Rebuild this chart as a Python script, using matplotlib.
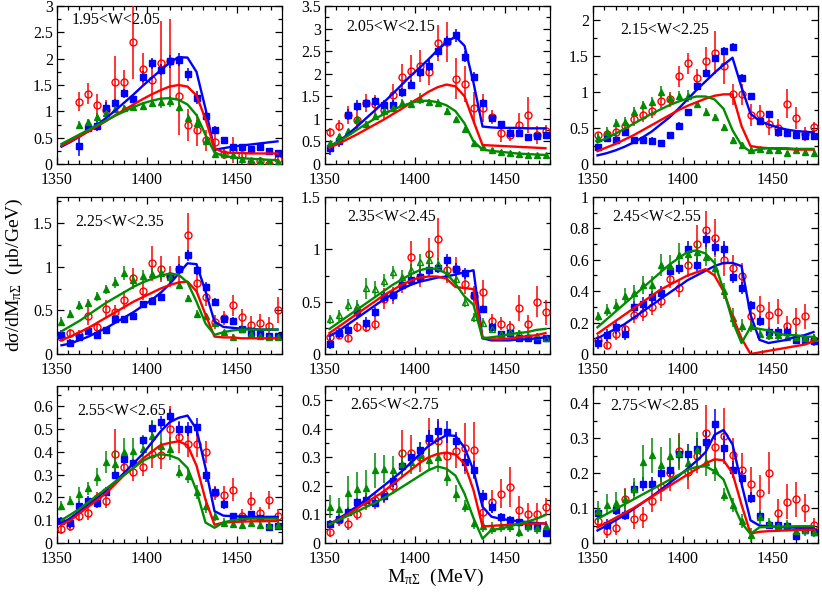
import matplotlib
matplotlib.use("Agg")
import matplotlib.pyplot as plt
from matplotlib.ticker import MultipleLocator, FuncFormatter

plt.rcParams['font.family'] = ['Liberation Serif', 'DejaVu Serif']
plt.rcParams['mathtext.fontset'] = 'custom'
plt.rcParams['mathtext.rm'] = 'Liberation Serif'
plt.rcParams['mathtext.it'] = 'Liberation Serif:italic'

# bin centres (MeV)
mass = [1352.5, 1357.5, 1362.5, 1367.5, 1372.5, 1377.5, 1382.5, 1387.5, 1392.5,
        1397.5, 1402.5, 1407.5, 1412.5, 1417.5, 1422.5, 1427.5, 1432.5, 1437.5,
        1442.5, 1447.5, 1452.5, 1457.5, 1462.5, 1467.5, 1472.5]

labels = ['1.95<W<2.05', '2.05<W<2.15', '2.15<W<2.25',
          '2.25<W<2.35', '2.35<W<2.45', '2.45<W<2.55',
          '2.55<W<2.65', '2.65<W<2.75', '2.75<W<2.85']
ymax = [3.0, 3.5, 2.2, 1.8, 1.5, 1.0, 0.69, 0.55, 0.45]
ymajor = [0.5, 0.5, 0.5, 0.5, 0.5, 0.2, 0.1, 0.1, 0.1]
first_bin = [2, 0, 0, 0, 0, 0, 0, 0, 0]

# ---- panel 1 (data from 1362.5)
red1 = [1.18, 1.33, 1.12, 1.02, 1.56, 1.56, 2.31, 1.80, 1.60, 1.91, 1.95, 1.30, 0.74, 0.65, 0.45, 0.41, 0.19, 0.27, 0.18, 0.0, 0.05, 0.0, 0.10]
red1_err = [0.18, 0.2, 0.2, 0.2, 0.5, 0.22, 0.7, 0.3, 0.4, 0.8, 0.8, 0.75, 0.3, 0.3, 0.2, 0.2, 0.1, 0.25, 0.2, 0.08, 0.08, 0.08, 0.1]
blue1 = [0.35, 0.68, 0.73, 1.07, 1.16, 1.34, 1.24, 1.66, 1.91, 1.79, 1.95, 1.98, 1.70, 1.26, 0.92, 0.65, 0.45, 0.33, 0.33, 0.29, 0.32, 0.24, 0.20]
blue1_err = [0.2, 0.1, 0.1, 0.1, 0.08, 0.08, 0.08, 0.1, 0.1, 0.1, 0.12, 0.12, 0.12, 0.12, 0.1, 0.08, 0.06, 0.05, 0.05, 0.05, 0.05, 0.06, 0.06]
green1 = [0.75, 0.79, 0.90, 0.97, 1.05, 1.06, 1.08, 1.11, 1.15, 1.17, 1.19, 1.09, 0.87, 0.77, 0.43, 0.19, 0.19, 0.17, 0.09, 0.08, 0.05, 0.03, 0.03]
green1_err = [0.06, 0.06, 0.06, 0.06, 0.06, 0.06, 0.06, 0.07, 0.07, 0.1, 0.1, 0.1, 0.08, 0.07, 0.06, 0.05, 0.04, 0.04, 0.03, 0.03, 0.03, 0.03, 0.03]
fit_blue1 = [0.33, 0.42, 0.52, 0.63, 0.75, 0.88, 1.02, 1.17, 1.32, 1.48, 1.63, 1.78, 1.92, 2.03, 2.02, 1.75, 1.05, 0.27, 0.30, 0.33, 0.35, 0.37, 0.39, 0.41, 0.43]
fit_red1 = [0.35, 0.43, 0.52, 0.62, 0.72, 0.82, 0.93, 1.03, 1.13, 1.23, 1.32, 1.40, 1.47, 1.50, 1.47, 1.30, 0.85, 0.30, 0.22, 0.21, 0.21, 0.20, 0.20, 0.20, 0.20]
fit_green1 = [0.38, 0.47, 0.56, 0.65, 0.74, 0.83, 0.92, 1.00, 1.08, 1.15, 1.20, 1.24, 1.25, 1.22, 1.13, 0.93, 0.55, 0.22, 0.15, 0.13, 0.11, 0.10, 0.09, 0.08, 0.07]

# ---- panel 2
red2 = [0.70, 0.85, 1.09, 0.98, 1.35, 1.33, 1.20, 1.52, 1.92, 2.07, 2.17, 2.04, 2.69, 2.70, 1.89, 1.77, 1.24, 1.24, 1.04, 0.68, 0.65, 0.87, 1.09, 0.65, 0.72]
red2_err = [0.1, 0.12, 0.2, 0.2, 0.2, 0.2, 0.2, 0.25, 0.3, 0.35, 0.35, 0.3, 0.4, 0.45, 0.45, 0.4, 0.35, 0.3, 0.15, 0.2, 0.15, 0.25, 0.4, 0.2, 0.15]
blue2 = [0.35, 0.50, 1.09, 1.29, 1.35, 1.39, 1.31, 1.31, 1.59, 1.76, 2.03, 2.18, 2.50, 2.72, 2.85, 2.38, 1.93, 1.35, 1.02, 0.89, 0.68, 0.68, 0.60, 0.63, 0.65]
blue2_err = [0.15, 0.12, 0.12, 0.12, 0.1, 0.1, 0.1, 0.1, 0.1, 0.1, 0.1, 0.12, 0.12, 0.12, 0.15, 0.12, 0.1, 0.08, 0.06, 0.06, 0.06, 0.06, 0.06, 0.06, 0.06]
green2 = [0.46, 0.61, 0.72, 0.99, 0.89, 1.07, 1.17, 1.24, 1.35, 1.33, 1.45, 1.37, 1.35, 1.18, 0.99, 0.77, 0.46, 0.37, 0.31, 0.27, 0.24, 0.22, 0.20, 0.19, 0.19]
green2_err = [0.06, 0.06, 0.06, 0.08, 0.06, 0.06, 0.06, 0.06, 0.08, 0.08, 0.12, 0.08, 0.08, 0.07, 0.06, 0.05, 0.04, 0.03, 0.03, 0.03, 0.03, 0.03, 0.03, 0.03, 0.03]
fit_blue2 = [0.38, 0.50, 0.65, 0.82, 1.00, 1.18, 1.36, 1.55, 1.75, 1.95, 2.13, 2.32, 2.52, 2.70, 2.82, 2.62, 1.80, 0.83, 0.81, 0.80, 0.80, 0.80, 0.79, 0.79, 0.79]
fit_red2 = [0.36, 0.45, 0.55, 0.65, 0.76, 0.87, 0.98, 1.10, 1.22, 1.35, 1.47, 1.60, 1.70, 1.76, 1.72, 1.50, 0.95, 0.42, 0.41, 0.40, 0.39, 0.38, 0.37, 0.36, 0.35]
fit_green2 = [0.40, 0.50, 0.62, 0.75, 0.88, 1.00, 1.10, 1.20, 1.28, 1.35, 1.40, 1.40, 1.37, 1.30, 1.17, 0.90, 0.50, 0.32, 0.29, 0.27, 0.25, 0.23, 0.22, 0.21, 0.20]

# ---- panel 3
red3 = [0.40, 0.42, 0.45, 0.53, 0.63, 0.68, 0.74, 0.88, 0.90, 1.22, 1.40, 1.20, 1.43, 1.55, 1.37, 0.97, 0.97, 0.68, 0.70, 0.56, 0.50, 0.84, 0.64, 0.42, 0.51]
red3_err = [0.05, 0.06, 0.06, 0.08, 0.1, 0.1, 0.1, 0.1, 0.1, 0.15, 0.15, 0.12, 0.2, 0.3, 0.25, 0.15, 0.15, 0.15, 0.12, 0.15, 0.12, 0.2, 0.15, 0.1, 0.08]
blue3 = [0.23, 0.36, 0.34, 0.44, 0.33, 0.33, 0.32, 0.29, 0.40, 0.53, 0.72, 1.08, 1.27, 1.47, 1.58, 1.63, 1.20, 0.94, 0.60, 0.70, 0.45, 0.43, 0.40, 0.39, 0.39]
blue3_err = [0.05, 0.05, 0.05, 0.05, 0.05, 0.05, 0.05, 0.05, 0.05, 0.05, 0.05, 0.05, 0.05, 0.05, 0.05, 0.05, 0.05, 0.04, 0.04, 0.04, 0.04, 0.04, 0.04, 0.04, 0.04]
green3 = [0.36, 0.45, 0.57, 0.59, 0.73, 0.82, 0.87, 1.00, 0.92, 0.95, 0.95, 0.83, 0.73, 0.65, 0.51, 0.33, 0.26, 0.20, 0.21, 0.20, 0.19, 0.15, 0.19, 0.17, 0.16]
green3_err = [0.06, 0.06, 0.06, 0.06, 0.06, 0.06, 0.06, 0.08, 0.06, 0.06, 0.08, 0.05, 0.05, 0.05, 0.05, 0.04, 0.04, 0.03, 0.03, 0.03, 0.03, 0.03, 0.03, 0.03, 0.03]
fit_blue3 = [0.12, 0.15, 0.19, 0.24, 0.30, 0.37, 0.45, 0.55, 0.65, 0.77, 0.90, 1.03, 1.15, 1.27, 1.38, 1.48, 1.07, 0.70, 0.60, 0.55, 0.51, 0.48, 0.46, 0.45, 0.44]
fit_red3 = [0.18, 0.23, 0.28, 0.34, 0.40, 0.47, 0.54, 0.61, 0.68, 0.75, 0.81, 0.86, 0.91, 0.95, 0.97, 0.97, 0.53, 0.25, 0.23, 0.22, 0.21, 0.21, 0.20, 0.20, 0.20]
fit_green3 = [0.30, 0.36, 0.42, 0.49, 0.56, 0.63, 0.70, 0.76, 0.82, 0.87, 0.91, 0.94, 0.94, 0.90, 0.77, 0.47, 0.26, 0.17, 0.21, 0.22, 0.22, 0.22, 0.21, 0.21, 0.21]

# ---- panel 4
red4 = [0.20, 0.24, 0.22, 0.43, 0.31, 0.52, 0.48, 0.62, 0.87, 0.72, 1.04, 0.97, 0.89, 0.97, 1.37, 0.81, 0.65, 0.37, 0.41, 0.56, 0.42, 0.33, 0.36, 0.32, 0.50]
red4_err = [0.05, 0.05, 0.06, 0.1, 0.06, 0.1, 0.08, 0.1, 0.12, 0.1, 0.2, 0.15, 0.12, 0.15, 0.25, 0.12, 0.1, 0.08, 0.08, 0.12, 0.1, 0.1, 0.1, 0.1, 0.15]
blue4 = [0.22, 0.13, 0.20, 0.26, 0.22, 0.27, 0.40, 0.40, 0.43, 0.57, 0.61, 0.65, 0.89, 0.98, 1.13, 0.96, 0.77, 0.60, 0.40, 0.38, 0.29, 0.24, 0.24, 0.21, 0.21]
blue4_err = [0.05, 0.04, 0.04, 0.04, 0.04, 0.04, 0.04, 0.04, 0.04, 0.04, 0.04, 0.04, 0.05, 0.05, 0.06, 0.05, 0.05, 0.04, 0.04, 0.04, 0.03, 0.03, 0.03, 0.03, 0.03]
green4 = [0.37, 0.46, 0.56, 0.58, 0.66, 0.74, 0.82, 0.93, 0.85, 0.89, 0.92, 0.93, 0.88, 0.79, 0.64, 0.46, 0.43, 0.35, 0.25, 0.20, 0.29, 0.23, 0.21, 0.20, 0.20]
green4_err = [0.05, 0.05, 0.05, 0.05, 0.05, 0.05, 0.06, 0.08, 0.07, 0.07, 0.07, 0.08, 0.06, 0.05, 0.04, 0.04, 0.04, 0.04, 0.03, 0.03, 0.03, 0.03, 0.03, 0.03, 0.03]
fit_blue4 = [0.10, 0.12, 0.16, 0.20, 0.25, 0.30, 0.36, 0.42, 0.48, 0.55, 0.62, 0.70, 0.80, 0.92, 1.04, 1.03, 0.72, 0.37, 0.31, 0.30, 0.29, 0.29, 0.28, 0.28, 0.28]
fit_red4 = [0.16, 0.20, 0.25, 0.30, 0.36, 0.42, 0.48, 0.54, 0.60, 0.65, 0.70, 0.75, 0.79, 0.82, 0.83, 0.72, 0.45, 0.20, 0.19, 0.19, 0.18, 0.18, 0.18, 0.18, 0.18]
fit_green4 = [0.26, 0.32, 0.38, 0.45, 0.52, 0.59, 0.65, 0.71, 0.77, 0.82, 0.86, 0.90, 0.92, 0.91, 0.82, 0.60, 0.35, 0.22, 0.25, 0.27, 0.28, 0.28, 0.28, 0.28, 0.28]

# ---- panel 5
red5 = [0.16, 0.18, 0.15, 0.26, 0.26, 0.29, 0.53, 0.56, 0.66, 0.93, 0.74, 0.96, 1.10, 0.80, 0.81, 0.67, 0.55, 0.59, 0.32, 0.29, 0.26, 0.44, 0.29, 0.50, 0.40]
red5_err = [0.04, 0.04, 0.04, 0.05, 0.05, 0.06, 0.1, 0.08, 0.08, 0.15, 0.1, 0.15, 0.2, 0.12, 0.12, 0.1, 0.1, 0.12, 0.06, 0.06, 0.06, 0.12, 0.08, 0.15, 0.12]
blue5 = [0.10, 0.20, 0.23, 0.40, 0.30, 0.40, 0.54, 0.56, 0.66, 0.71, 0.74, 0.80, 0.82, 0.90, 0.81, 0.77, 0.56, 0.43, 0.26, 0.19, 0.20, 0.15, 0.15, 0.13, 0.15]
blue5_err = [0.05, 0.05, 0.05, 0.05, 0.05, 0.05, 0.05, 0.05, 0.05, 0.05, 0.05, 0.05, 0.05, 0.06, 0.06, 0.05, 0.05, 0.04, 0.04, 0.03, 0.03, 0.03, 0.03, 0.03, 0.03]
green5 = [0.33, 0.37, 0.47, 0.46, 0.63, 0.62, 0.70, 0.78, 0.74, 0.80, 0.88, 0.90, 0.86, 0.76, 0.72, 0.50, 0.35, 0.30, 0.24, 0.19, 0.21, 0.20, 0.17, 0.17, 0.15]
green5_err = [0.04, 0.05, 0.06, 0.06, 0.1, 0.08, 0.06, 0.06, 0.06, 0.06, 0.08, 0.08, 0.06, 0.06, 0.06, 0.05, 0.04, 0.04, 0.04, 0.03, 0.03, 0.03, 0.03, 0.03, 0.03]
fit_blue5 = [0.17, 0.22, 0.28, 0.34, 0.40, 0.46, 0.52, 0.57, 0.62, 0.66, 0.69, 0.71, 0.73, 0.74, 0.76, 0.78, 0.80, 0.15, 0.13, 0.13, 0.13, 0.14, 0.14, 0.15, 0.16]
fit_red5 = [0.20, 0.26, 0.32, 0.38, 0.44, 0.50, 0.56, 0.61, 0.66, 0.70, 0.73, 0.74, 0.74, 0.72, 0.64, 0.63, 0.62, 0.16, 0.14, 0.14, 0.15, 0.16, 0.17, 0.18, 0.20]
fit_green5 = [0.24, 0.30, 0.36, 0.42, 0.48, 0.54, 0.60, 0.66, 0.71, 0.76, 0.80, 0.82, 0.81, 0.77, 0.67, 0.55, 0.47, 0.15, 0.16, 0.17, 0.19, 0.20, 0.21, 0.23, 0.24]

# ---- panel 6
red6 = [0.09, 0.06, 0.13, 0.16, 0.25, 0.26, 0.30, 0.34, 0.48, 0.42, 0.57, 0.70, 0.79, 0.74, 0.60, 0.55, 0.50, 0.24, 0.29, 0.25, 0.27, 0.18, 0.21, 0.24, 0.09]
red6_err = [0.03, 0.03, 0.04, 0.04, 0.05, 0.05, 0.05, 0.05, 0.06, 0.06, 0.08, 0.12, 0.12, 0.12, 0.1, 0.08, 0.08, 0.06, 0.08, 0.08, 0.08, 0.06, 0.08, 0.08, 0.04]
blue6 = [0.07, 0.12, 0.17, 0.13, 0.30, 0.32, 0.36, 0.39, 0.53, 0.55, 0.67, 0.57, 0.73, 0.68, 0.67, 0.49, 0.42, 0.31, 0.21, 0.14, 0.14, 0.14, 0.09, 0.09, 0.08]
blue6_err = [0.04, 0.04, 0.04, 0.04, 0.04, 0.04, 0.04, 0.04, 0.04, 0.04, 0.05, 0.04, 0.05, 0.05, 0.05, 0.04, 0.04, 0.03, 0.03, 0.03, 0.03, 0.03, 0.02, 0.02, 0.02]
green6 = [0.24, 0.28, 0.31, 0.37, 0.39, 0.44, 0.44, 0.57, 0.56, 0.63, 0.64, 0.65, 0.62, 0.55, 0.40, 0.23, 0.18, 0.18, 0.13, 0.12, 0.12, 0.11, 0.11, 0.10, 0.10]
green6_err = [0.03, 0.04, 0.04, 0.05, 0.05, 0.06, 0.06, 0.07, 0.07, 0.08, 0.07, 0.07, 0.06, 0.06, 0.05, 0.06, 0.04, 0.04, 0.03, 0.03, 0.03, 0.03, 0.03, 0.03, 0.03]
fit_blue6 = [0.10, 0.13, 0.16, 0.19, 0.23, 0.27, 0.31, 0.35, 0.39, 0.43, 0.47, 0.50, 0.53, 0.56, 0.58, 0.58, 0.56, 0.25, 0.09, 0.07, 0.08, 0.09, 0.11, 0.12, 0.14]
fit_red6 = [0.13, 0.17, 0.21, 0.25, 0.29, 0.33, 0.37, 0.41, 0.44, 0.47, 0.50, 0.52, 0.54, 0.50, 0.40, 0.24, 0.10, 0.0, 0.01, 0.02, 0.03, 0.04, 0.05, 0.06, 0.08]
fit_green6 = [0.17, 0.22, 0.27, 0.32, 0.37, 0.42, 0.47, 0.52, 0.57, 0.61, 0.65, 0.66, 0.64, 0.58, 0.41, 0.21, 0.07, 0.17, 0.16, 0.15, 0.13, 0.12, 0.12, 0.11, 0.11]

# ---- panel 7
red7 = [0.06, 0.074, 0.118, 0.133, 0.196, 0.185, 0.39, 0.333, 0.314, 0.333, 0.39, 0.385, 0.50, 0.467, 0.437, 0.437, 0.40, 0.22, 0.21, 0.235, 0.12, 0.185, 0.13, 0.19, 0.12]
red7_err = [0.02, 0.02, 0.02, 0.03, 0.03, 0.03, 0.11, 0.04, 0.04, 0.04, 0.06, 0.06, 0.1, 0.07, 0.06, 0.06, 0.05, 0.03, 0.04, 0.05, 0.03, 0.04, 0.03, 0.04, 0.03]
blue7 = [0.096, 0.086, 0.163, 0.185, 0.175, 0.225, 0.30, 0.367, 0.351, 0.452, 0.504, 0.53, 0.56, 0.50, 0.50, 0.51, 0.30, 0.225, 0.17, 0.118, 0.11, 0.126, 0.11, 0.07, 0.074]
blue7_err = [0.02, 0.02, 0.02, 0.02, 0.02, 0.02, 0.02, 0.02, 0.02, 0.02, 0.03, 0.03, 0.03, 0.03, 0.03, 0.04, 0.03, 0.02, 0.02, 0.015, 0.015, 0.015, 0.015, 0.015, 0.015]
green7 = [0.163, 0.185, 0.215, 0.24, 0.289, 0.356, 0.348, 0.40, 0.403, 0.415, 0.471, 0.427, 0.415, 0.314, 0.293, 0.225, 0.163, 0.118, 0.089, 0.084, 0.081, 0.09, 0.08, 0.08, 0.08]
green7_err = [0.02, 0.02, 0.03, 0.03, 0.04, 0.05, 0.06, 0.06, 0.06, 0.06, 0.07, 0.06, 0.05, 0.03, 0.03, 0.03, 0.03, 0.02, 0.02, 0.02, 0.02, 0.02, 0.02, 0.02, 0.02]
fit_blue7 = [0.085, 0.11, 0.14, 0.17, 0.20, 0.235, 0.27, 0.31, 0.35, 0.39, 0.44, 0.49, 0.53, 0.55, 0.56, 0.50, 0.33, 0.14, 0.12, 0.118, 0.116, 0.115, 0.115, 0.115, 0.115]
fit_red7 = [0.08, 0.10, 0.13, 0.16, 0.19, 0.22, 0.26, 0.30, 0.33, 0.37, 0.40, 0.43, 0.44, 0.447, 0.43, 0.34, 0.19, 0.08, 0.09, 0.092, 0.094, 0.095, 0.096, 0.096, 0.097]
fit_green7 = [0.10, 0.125, 0.15, 0.18, 0.21, 0.24, 0.27, 0.30, 0.33, 0.36, 0.38, 0.39, 0.385, 0.37, 0.33, 0.23, 0.09, 0.067, 0.09, 0.10, 0.105, 0.107, 0.107, 0.107, 0.107]

# ---- panel 8
red8 = [0.04, 0.08, 0.066, 0.10, 0.144, 0.15, 0.17, 0.20, 0.317, 0.317, 0.30, 0.358, 0.358, 0.306, 0.323, 0.332, 0.325, 0.11, 0.144, 0.173, 0.196, 0.115, 0.10, 0.10, 0.127]
red8_err = [0.02, 0.02, 0.02, 0.02, 0.03, 0.03, 0.03, 0.03, 0.08, 0.06, 0.05, 0.08, 0.07, 0.07, 0.06, 0.09, 0.1, 0.04, 0.04, 0.05, 0.07, 0.05, 0.04, 0.04, 0.03]
blue8 = [0.066, 0.083, 0.11, 0.144, 0.152, 0.141, 0.164, 0.217, 0.268, 0.30, 0.325, 0.367, 0.394, 0.389, 0.358, 0.283, 0.256, 0.164, 0.125, 0.09, 0.081, 0.072, 0.06, 0.058, 0.035]
blue8_err = [0.015, 0.015, 0.015, 0.015, 0.015, 0.015, 0.02, 0.02, 0.02, 0.02, 0.03, 0.03, 0.04, 0.04, 0.03, 0.03, 0.03, 0.02, 0.02, 0.015, 0.015, 0.01, 0.01, 0.01, 0.01]
green8 = [0.127, 0.118, 0.175, 0.19, 0.194, 0.254, 0.26, 0.254, 0.277, 0.283, 0.308, 0.291, 0.30, 0.231, 0.173, 0.13, 0.069, 0.058, 0.052, 0.058, 0.06, 0.04, 0.058, 0.052, 0.058]
green8_err = [0.04, 0.04, 0.06, 0.06, 0.06, 0.06, 0.05, 0.05, 0.05, 0.04, 0.04, 0.04, 0.05, 0.03, 0.03, 0.02, 0.02, 0.02, 0.02, 0.02, 0.02, 0.02, 0.02, 0.02, 0.02]
fit_blue8 = [0.065, 0.085, 0.105, 0.128, 0.15, 0.175, 0.20, 0.225, 0.25, 0.28, 0.31, 0.34, 0.36, 0.378, 0.375, 0.335, 0.254, 0.127, 0.092, 0.085, 0.08, 0.076, 0.073, 0.07, 0.068]
fit_red8 = [0.065, 0.082, 0.10, 0.12, 0.14, 0.16, 0.18, 0.205, 0.23, 0.255, 0.28, 0.30, 0.312, 0.317, 0.31, 0.277, 0.185, 0.058, 0.06, 0.062, 0.064, 0.066, 0.067, 0.068, 0.069]
fit_green8 = [0.065, 0.08, 0.095, 0.11, 0.125, 0.14, 0.157, 0.175, 0.195, 0.215, 0.235, 0.255, 0.268, 0.26, 0.236, 0.173, 0.087, 0.015, 0.046, 0.05, 0.058, 0.066, 0.075, 0.085, 0.098]

# ---- panel 9
red9 = [0.064, 0.034, 0.043, 0.127, 0.069, 0.074, 0.12, 0.16, 0.20, 0.264, 0.204, 0.25, 0.315, 0.276, 0.307, 0.251, 0.209, 0.168, 0.144, 0.20, 0.086, 0.118, 0.125, 0.10, 0.053]
red9_err = [0.015, 0.02, 0.02, 0.03, 0.03, 0.03, 0.03, 0.04, 0.05, 0.05, 0.05, 0.05, 0.08, 0.06, 0.08, 0.05, 0.05, 0.05, 0.05, 0.06, 0.04, 0.05, 0.05, 0.04, 0.02]
blue9 = [0.086, 0.053, 0.096, 0.08, 0.154, 0.168, 0.17, 0.20, 0.21, 0.256, 0.255, 0.27, 0.29, 0.34, 0.273, 0.21, 0.187, 0.13, 0.077, 0.053, 0.051, 0.048, 0.02, 0.036, 0.031]
blue9_err = [0.015, 0.015, 0.015, 0.015, 0.02, 0.02, 0.02, 0.02, 0.02, 0.02, 0.03, 0.03, 0.03, 0.045, 0.035, 0.025, 0.02, 0.015, 0.015, 0.01, 0.01, 0.01, 0.01, 0.01, 0.01]
green9 = [0.091, 0.11, 0.115, 0.125, 0.155, 0.232, 0.251, 0.224, 0.25, 0.259, 0.23, 0.267, 0.232, 0.209, 0.139, 0.108, 0.062, 0.024, 0.075, 0.056, 0.048, 0.051, 0.034, 0.036, 0.032]
green9_err = [0.03, 0.03, 0.03, 0.03, 0.03, 0.05, 0.05, 0.05, 0.05, 0.05, 0.05, 0.05, 0.04, 0.03, 0.02, 0.02, 0.02, 0.02, 0.02, 0.015, 0.015, 0.015, 0.015, 0.015, 0.015]
fit_blue9 = [0.036, 0.05, 0.065, 0.08, 0.097, 0.115, 0.133, 0.152, 0.172, 0.192, 0.213, 0.235, 0.26, 0.31, 0.324, 0.283, 0.17, 0.065, 0.05, 0.048, 0.046, 0.045, 0.044, 0.043, 0.043]
fit_red9 = [0.045, 0.058, 0.072, 0.086, 0.10, 0.116, 0.132, 0.148, 0.164, 0.18, 0.196, 0.212, 0.228, 0.24, 0.237, 0.20, 0.11, 0.027, 0.032, 0.034, 0.035, 0.036, 0.037, 0.038, 0.038]
fit_green9 = [0.069, 0.083, 0.097, 0.111, 0.125, 0.139, 0.153, 0.167, 0.181, 0.195, 0.21, 0.218, 0.22, 0.206, 0.182, 0.115, 0.058, 0.026, 0.045, 0.046, 0.047, 0.047, 0.048, 0.048, 0.048]

reds = [red1, red2, red3, red4, red5, red6, red7, red8, red9]
reds_err = [red1_err, red2_err, red3_err, red4_err, red5_err, red6_err, red7_err, red8_err, red9_err]
blues = [blue1, blue2, blue3, blue4, blue5, blue6, blue7, blue8, blue9]
blues_err = [blue1_err, blue2_err, blue3_err, blue4_err, blue5_err, blue6_err, blue7_err, blue8_err, blue9_err]
greens = [green1, green2, green3, green4, green5, green6, green7, green8, green9]
greens_err = [green1_err, green2_err, green3_err, green4_err, green5_err, green6_err, green7_err, green8_err, green9_err]
fits_blue = [fit_blue1, fit_blue2, fit_blue3, fit_blue4, fit_blue5, fit_blue6, fit_blue7, fit_blue8, fit_blue9]
fits_red = [fit_red1, fit_red2, fit_red3, fit_red4, fit_red5, fit_red6, fit_red7, fit_red8, fit_red9]
fits_green = [fit_green1, fit_green2, fit_green3, fit_green4, fit_green5, fit_green6, fit_green7, fit_green8, fit_green9]

RED = '#ff0000'
BLUE = '#0000ff'
GREEN = '#008b00'

W, H = 822, 595
fig = plt.figure(figsize=(W / 100, H / 100), dpi=100)

col_left = [57, 325, 593]
row_top = [6, 197, 386]
row_bot = [164, 354, 543]
ax_w = 225
label_pos = [(0.065, 0.91), (0.095, 0.87), (0.12, 0.85),
             (0.08, 0.84), (0.10, 0.87), (0.085, 0.87),
             (0.09, 0.84), (0.11, 0.88), (0.075, 0.87)]

fmt = FuncFormatter(lambda v, p: '%g' % round(v, 3))

for k in range(9):
    r, c = divmod(k, 3)
    ax = fig.add_axes([col_left[c] / W, 1 - row_bot[r] / H, ax_w / W,
                       (row_bot[r] - row_top[r]) / H])
    x = mass[first_bin[k]:]

    ax.errorbar(x, reds[k], yerr=reds_err[k], fmt='o', ms=5, mfc='none',
                mec=RED, mew=1.0, ecolor=RED, elinewidth=1.1, capsize=0, zorder=3)
    ax.errorbar(x, blues[k], yerr=blues_err[k], fmt='s', ms=3.8, mfc=BLUE,
                mec=BLUE, ecolor=BLUE, elinewidth=1.1, capsize=0, zorder=3)
    gfc = 'none' if k == 4 else GREEN
    ax.errorbar(x, greens[k], yerr=greens_err[k], fmt='^', ms=5, mfc=gfc,
                mec=GREEN, mew=1.0, ecolor=GREEN, elinewidth=1.1, capsize=0, zorder=3)

    ax.plot(mass, fits_blue[k], color=BLUE, lw=1.7, zorder=4)
    ax.plot(mass, fits_red[k], color=RED, lw=1.7, zorder=4)
    ax.plot(mass, fits_green[k], color=GREEN, lw=1.7, zorder=4)

    ax.set_xlim(1350, 1475)
    ax.set_ylim(0, ymax[k])
    ax.xaxis.set_major_locator(MultipleLocator(50))
    ax.xaxis.set_minor_locator(MultipleLocator(6.25))
    ax.yaxis.set_major_locator(MultipleLocator(ymajor[k]))
    ax.yaxis.set_minor_locator(MultipleLocator(ymajor[k] / 2))
    ax.yaxis.set_major_formatter(fmt)
    ax.tick_params(which='both', direction='in', top=True, right=True,
                   labelsize=11.5, width=0.9)
    ax.tick_params(axis='x', pad=5.5)
    ax.tick_params(axis='y', pad=3)
    ax.tick_params(which='major', length=5)
    ax.tick_params(which='minor', length=3)
    for s in ax.spines.values():
        s.set_linewidth(0.9)

    ax.text(label_pos[k][0], label_pos[k][1], labels[k], transform=ax.transAxes,
            fontsize=11.5, va='center', ha='left')

fig.text(0.018, 0.538, 'd\u03c3/dM$_{\\mathrm{\u03c0\u03a3}}$  (\u03bcb/GeV)',
         rotation=90, fontsize=14, ha='center', va='center')
fig.text(0.53, 0.029, 'M$_{\\mathrm{\u03c0\u03a3}}$  (MeV)', fontsize=14,
         ha='center', va='center')

fig.savefig('out.png', dpi=100)
